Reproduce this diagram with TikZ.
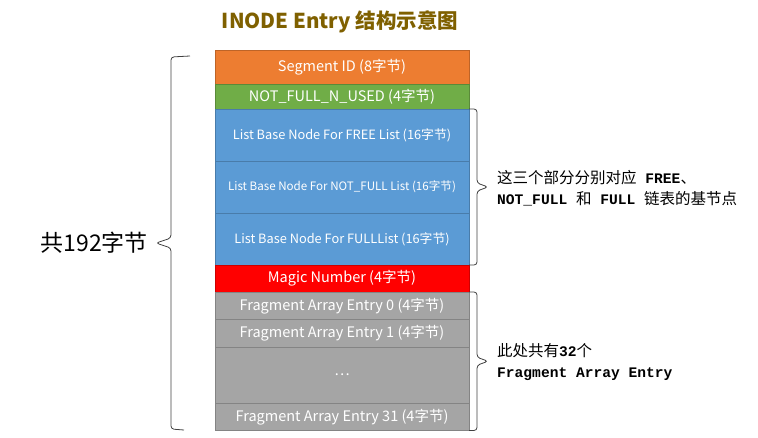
\documentclass[tikz,border=0pt]{standalone}
\usepackage{fontspec}
\setmainfont{Noto Sans CJK SC}
\newfontfamily\cjk{Noto Sans CJK SC}
\newfontfamily\monob{Liberation Mono}[BoldFont={* Bold}]
\usetikzlibrary{calc,positioning}

\definecolor{segorange}{HTML}{ED7D31}
\definecolor{usedgreen}{HTML}{70AD47}
\definecolor{listblue}{HTML}{5B9BD5}
\definecolor{magicred}{HTML}{FF0000}
\definecolor{fraggray}{HTML}{A5A5A5}
\definecolor{titleolive}{HTML}{7F6000}

\newcommand{\zh}[1]{{\cjk\mdseries\fontsize{15.5}{21}\selectfont #1}}

\begin{document}
\begin{tikzpicture}[
    x=1pt,
    y=-1pt,
    field/.style={draw=#1!80!black, fill=#1, line width=0.6pt,
        minimum width=254pt, inner sep=0pt, outer sep=0pt, text=white,
        font=\fontsize{14.5}{16}\selectfont},
    listfield/.style={field=listblue, minimum height=52pt,
        font=\fontsize{12.8}{14}\selectfont},
    fragfield/.style={field=fraggray, minimum height=27.5pt},
    bracket/.style={black!75, line width=0.8pt, rounded corners=3pt},
    note/.style={anchor=west, align=left, inner sep=0pt,
        font=\monob\bfseries\fontsize{14.6}{21}\selectfont},
    title/.style={font=\bfseries\fontsize{20.5}{24}\selectfont, text=titleolive}
]

\useasboundingbox (0,0) rectangle (758,437);

% -------------------------------------------------------------------------
% Title
% -------------------------------------------------------------------------
\node[ title ] (title) at (340,22) {INODE Entry 结构示意图};

% -------------------------------------------------------------------------
% Entry fields, stacked from the top
% -------------------------------------------------------------------------
\node[ field=segorange, minimum height=34pt, anchor=north ] (seg)
    at (342,50) {Segment ID (8字节)};
\node[ field=usedgreen, minimum height=25pt, anchor=north ] (nfn)
    at (seg.south) {NOT\_FULL\_N\_USED (4字节)};

\node[ listfield, anchor=north ] (free)    at (nfn.south)
    {List Base Node For FREE List (16字节)};
\node[ listfield, anchor=north, font=\fontsize{11.6}{13}\selectfont ] (notfull)
    at (free.south) {List Base Node For NOT\_FULL List (16字节)};
\node[ listfield, anchor=north ] (full)    at (notfull.south)
    {List Base Node For FULLList (16字节)};

\node[ field=magicred, minimum height=27pt, anchor=north ] (magic)
    at (full.south) {Magic Number (4字节)};

% fragment array
\node[ fragfield, anchor=north ] (frag0)  at (magic.south)
    {Fragment Array Entry 0 (4字节)};
\node[ fragfield, anchor=north ] (frag1)  at (frag0.south)
    {Fragment Array Entry 1 (4字节)};
\node[ fragfield, minimum height=56pt, anchor=north ] (fragdots)
    at (frag1.south) {\dots};
\node[ fragfield, anchor=north ] (frag31) at (fragdots.south)
    {Fragment Array Entry 31 (4字节)};

% -------------------------------------------------------------------------
% Left brace: whole entry
% -------------------------------------------------------------------------
\coordinate (lb-top) at (190,56);
\coordinate (lb-tip) at (156,243);
\coordinate (lb-bot) at (184,430);

\draw[ bracket ]
    (lb-top) -- (171,57) -- ($(lb-tip)+(15,-5)$) -- (lb-tip)
    -- ($(lb-tip)+(15,5)$) -- (171,429) -- (lb-bot);

\node[ anchor=east, inner sep=0pt, font=\fontsize{23}{26}\selectfont ] (total)
    at (148,243) {共192字节};

% -------------------------------------------------------------------------
% Right braces: list base nodes and fragment array
% -------------------------------------------------------------------------
\coordinate (rb1-mid) at ($(free.north east)!0.5!(full.south east)$);
\coordinate (rb2-mid) at ($(frag0.north east)!0.5!(frag31.south east)$);

\draw[ bracket ]
    (free.north east) -- ++(8,0) -- ($(rb1-mid)+(8,-4)$)
    -- ($(rb1-mid)+(19,0)$) -- ($(rb1-mid)+(8,4)$)
    -- ($(full.south east)+(8,0)$) -- (full.south east);

\draw[ bracket ]
    (frag0.north east) -- ++(8,0) -- ($(rb2-mid)+(8,-4)$)
    -- ($(rb2-mid)+(19,0)$) -- ($(rb2-mid)+(8,4)$)
    -- ($(frag31.south east)+(8,0)$) -- (frag31.south east);

% -------------------------------------------------------------------------
% Notes
% -------------------------------------------------------------------------
\node[ note ] (listnote) at ($(rb1-mid)+(28,1)$)
    {\zh{这三个部分分别对应} FREE\zh{、}\\
     NOT\_FULL \zh{和} FULL \zh{链表的基节点}};

\node[ note ] (fragnote) at ($(rb2-mid)+(28,1)$)
    {\zh{此处共有}32\zh{个}\\
     Fragment Array Entry};

\end{tikzpicture}
\end{document}
